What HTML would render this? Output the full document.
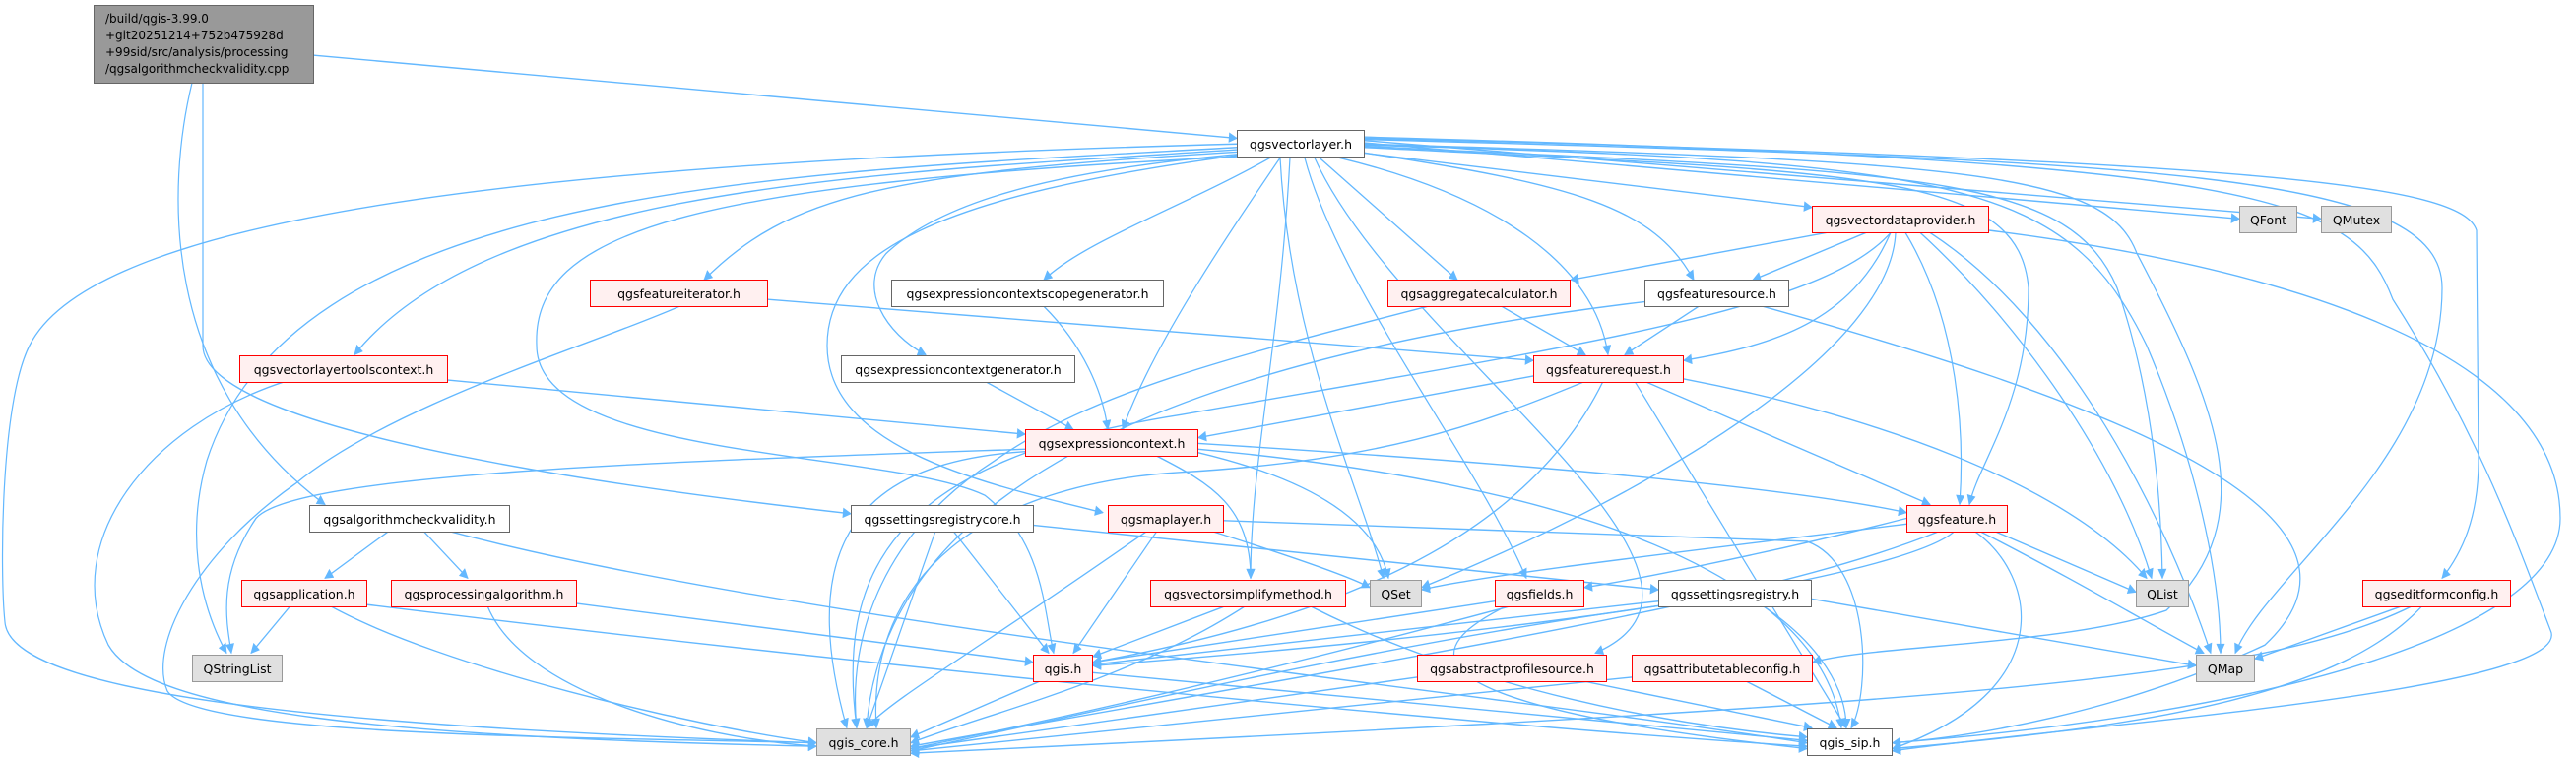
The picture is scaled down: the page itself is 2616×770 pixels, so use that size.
<!DOCTYPE html>
<html><head><meta charset="utf-8"><style>
html,body{margin:0;padding:0;background:#fff;}
#c{position:relative;width:2616px;height:770px;overflow:hidden;font-family:"DejaVu Sans","Liberation Sans",sans-serif;font-size:12.5px;color:#000;}
svg{position:absolute;left:0;top:0;}
.n{position:absolute;box-sizing:border-box;display:flex;align-items:center;justify-content:center;white-space:nowrap;border:1px solid #666;background:#fff;height:28px;}
.r{border-color:#f00;background:#fff0f0;}
.g{border-color:#999;background:#e0e0e0;}
</style></head><body><div id="c">
<svg width="2616" height="770" viewBox="0 0 2616 770">
<defs><marker id="a" viewBox="0 0 10 10" refX="9" refY="5" markerWidth="12" markerHeight="9" markerUnits="userSpaceOnUse" orient="auto"><path d="M0 0L10 5L0 10z" fill="#63b8ff"/></marker></defs>
<g fill="none" stroke="#63b8ff" stroke-width="1.2" marker-end="url(#a)" transform="scale(1 1.17)">
<path d="M319 48L1256 120"/>
<path d="M195 72C170 160 160 330 330 438"/>
<path d="M206 72L206 300C206 380 700 430 864 446"/>
<path d="M1256 125C600 140 100 180 30 300C0 350 0 500 5 540C10 600 300 630 829 645"/>
<path d="M1256 128C800 150 300 160 210 400C190 460 200 520 230 567"/>
<path d="M1256 130C900 150 500 160 360 308"/>
<path d="M1256 132C900 150 800 170 715 243"/>
<path d="M1290 137C1200 180 1100 210 1060 243"/>
<path d="M1256 134C1050 150 950 180 900 220C870 250 900 290 940 308"/>
<path d="M1300 137C1250 200 1170 300 1140 373"/>
<path d="M1256 135C950 170 840 220 840 300C840 390 1000 420 1120 445"/>
<path d="M1256 136C700 160 540 200 545 300C545 400 900 390 1000 430C1060 470 1060 530 1070 567"/>
<path d="M1300 137C1310 300 1380 420 1405 502"/>
<path d="M1310 137C1300 300 1270 400 1270 502"/>
<path d="M1325 137C1360 250 1500 400 1550 502"/>
<path d="M1335 137C1420 300 1800 500 1620 567"/>
<path d="M1340 137L1480 243"/>
<path d="M1360 137C1520 170 1620 230 1633 308"/>
<path d="M1380 132C1600 160 1680 180 1720 243"/>
<path d="M1386 133L1840 180"/>
<path d="M1386 128C1900 150 2050 150 2060 250C2060 350 2010 400 2000 438"/>
<path d="M1386 127C1950 150 2100 150 2150 250C2190 350 2195 450 2196 502"/>
<path d="M1386 126C2000 140 2100 160 2180 300C2230 400 2255 500 2255 567"/>
<path d="M1386 125C2000 140 2140 150 2170 220C2250 350 2300 450 2200 530C2100 560 1900 560 1841 575"/>
<path d="M1386 124L2274 190"/>
<path d="M1386 122L2357 190"/>
<path d="M1386 121C2200 140 2480 150 2480 250C2480 400 2300 500 2270 567"/>
<path d="M1386 120C2300 140 2500 160 2515 200L2517 400C2517 450 2500 480 2480 502"/>
<path d="M1386 119C2300 140 2390 170 2430 260C2520 380 2560 480 2590 547C2620 600 2100 630 1922 652"/>
<path d="M1855 202L1595 243"/>
<path d="M1895 202L1780 243"/>
<path d="M1920 202C1880 280 1800 300 1710 313"/>
<path d="M1935 202C1990 280 1995 380 1990 438"/>
<path d="M1950 202C2050 280 2150 400 2185 502"/>
<path d="M1960 202C2100 280 2200 450 2245 567"/>
<path d="M1925 202C1920 300 1700 420 1444 510"/>
<path d="M1920 202C1850 270 1600 300 1200 360C900 400 850 500 870 632"/>
<path d="M2020 200C2300 230 2600 300 2600 450C2600 550 2300 620 1922 645"/>
<path d="M690 266C600 300 400 350 300 420C200 480 150 560 170 600C200 640 600 640 829 645"/>
<path d="M780 260L1557 313"/>
<path d="M1060 266C1100 300 1120 340 1125 373"/>
<path d="M1000 331L1090 373"/>
<path d="M455 330L1041 377"/>
<path d="M290 331C150 370 60 470 110 560C150 620 400 640 829 648"/>
<path d="M1450 266C1250 310 1110 340 1010 400C900 460 860 550 870 632"/>
<path d="M1525 266L1610 308"/>
<path d="M1725 266L1650 308"/>
<path d="M1670 262C1300 300 900 390 880 632"/>
<path d="M1790 266C2100 340 2450 440 2300 560C2150 620 2000 640 1922 645"/>
<path d="M1560 326L1217 380"/>
<path d="M1610 331C1500 370 1400 400 1200 410C1000 420 880 500 890 632"/>
<path d="M1628 331C1560 450 1400 530 1110 575"/>
<path d="M1670 331L1960 438"/>
<path d="M1710 329C1900 360 2100 420 2180 502"/>
<path d="M1660 331L1875 632"/>
<path d="M1041 390C700 400 300 410 260 450C220 500 230 540 235 567"/>
<path d="M1041 392C900 400 800 450 860 632"/>
<path d="M1217 390C1600 420 1850 500 1870 632"/>
<path d="M1217 385C1500 400 1800 420 1936 445"/>
<path d="M1217 393C1350 420 1400 460 1410 502"/>
<path d="M1175 396C1230 420 1270 440 1270 502"/>
<path d="M395 461L330 502"/>
<path d="M430 461L475 502"/>
<path d="M455 461C800 540 1500 600 1835 645"/>
<path d="M295 526L255 567"/>
<path d="M335 526C450 580 700 630 829 645"/>
<path d="M373 525C900 580 1500 630 1835 648"/>
<path d="M495 526C530 600 700 640 829 648"/>
<path d="M586 524L1049 575"/>
<path d="M950 461L880 632"/>
<path d="M968 461L1065 567"/>
<path d="M1050 456L1684 512"/>
<path d="M1165 461C1000 560 900 610 880 632"/>
<path d="M1175 461L1090 567"/>
<path d="M1230 461C1300 480 1370 500 1391 510"/>
<path d="M1243 452L1835 470C1900 490 1900 600 1880 632"/>
<path d="M1936 455C1700 480 1500 500 1444 512"/>
<path d="M1936 450C1800 480 1650 505 1609 510"/>
<path d="M2025 461L2169 514"/>
<path d="M2010 461C2100 500 2200 550 2238 567"/>
<path d="M2005 461C2070 500 2090 600 1922 650"/>
<path d="M1985 461C1950 490 1700 540 1110 578"/>
<path d="M1970 461C1800 520 1500 560 925 648"/>
<path d="M1245 526L1110 570"/>
<path d="M1265 526C1150 590 1000 620 925 645"/>
<path d="M1330 526C1500 600 1700 630 1835 640"/>
<path d="M1518 522L1110 575"/>
<path d="M1535 526C1300 580 1100 620 925 650"/>
<path d="M1530 526C1450 560 1400 610 1835 650"/>
<path d="M1684 522L1110 577"/>
<path d="M1684 526C1400 560 1100 620 925 652"/>
<path d="M1790 526C1850 560 1875 600 1875 632"/>
<path d="M1840 520L2230 578"/>
<path d="M1060 590L925 640"/>
<path d="M1110 584L1835 643"/>
<path d="M1439 588L925 650"/>
<path d="M1600 590L1840 632"/>
<path d="M1657 588L925 652"/>
<path d="M1770 590L1865 632"/>
<path d="M2440 526L2290 572"/>
<path d="M2450 526C2300 590 2000 610 925 654"/>
<path d="M2460 526C2380 600 2200 630 1922 650"/>
</g></svg>
<div class="n" style="left:95px;top:5px;width:224px;height:80px;background:#999;border-color:#666;display:block;padding:5px 0 0 11px;line-height:17px;font-size:12px;">/build/qgis-3.99.0<br>+git20251214+752b475928d<br>+99sid/src/analysis/processing<br>/qgsalgorithmcheckvalidity.cpp</div>
<div class="n" style="left:1256px;top:132px;width:130px">qgsvectorlayer.h</div>
<div class="n r" style="left:1840px;top:209px;width:180px">qgsvectordataprovider.h</div>
<div class="n g" style="left:2274px;top:209px;width:59px">QFont</div>
<div class="n g" style="left:2357px;top:209px;width:72px">QMutex</div>
<div class="n r" style="left:599px;top:284px;width:181px">qgsfeatureiterator.h</div>
<div class="n" style="left:905px;top:284px;width:277px">qgsexpressioncontextscopegenerator.h</div>
<div class="n r" style="left:1409px;top:284px;width:186px">qgsaggregatecalculator.h</div>
<div class="n" style="left:1670px;top:284px;width:147px">qgsfeaturesource.h</div>
<div class="n r" style="left:243px;top:361px;width:212px">qgsvectorlayertoolscontext.h</div>
<div class="n" style="left:854px;top:361px;width:238px">qgsexpressioncontextgenerator.h</div>
<div class="n r" style="left:1557px;top:361px;width:153px">qgsfeaturerequest.h</div>
<div class="n r" style="left:1041px;top:436px;width:176px">qgsexpressioncontext.h</div>
<div class="n" style="left:314px;top:513px;width:204px">qgsalgorithmcheckvalidity.h</div>
<div class="n" style="left:864px;top:513px;width:186px">qgssettingsregistrycore.h</div>
<div class="n r" style="left:1125px;top:513px;width:118px">qgsmaplayer.h</div>
<div class="n r" style="left:1936px;top:513px;width:103px">qgsfeature.h</div>
<div class="n r" style="left:245px;top:589px;width:128px">qgsapplication.h</div>
<div class="n r" style="left:397px;top:589px;width:189px">qgsprocessingalgorithm.h</div>
<div class="n r" style="left:1168px;top:589px;width:199px">qgsvectorsimplifymethod.h</div>
<div class="n g" style="left:1391px;top:589px;width:53px">QSet</div>
<div class="n r" style="left:1518px;top:589px;width:91px">qgsfields.h</div>
<div class="n" style="left:1684px;top:589px;width:156px">qgssettingsregistry.h</div>
<div class="n g" style="left:2169px;top:589px;width:54px">QList</div>
<div class="n r" style="left:2399px;top:589px;width:151px">qgseditformconfig.h</div>
<div class="n g" style="left:195px;top:665px;width:92px">QStringList</div>
<div class="n r" style="left:1049px;top:665px;width:61px">qgis.h</div>
<div class="n r" style="left:1439px;top:665px;width:193px">qgsabstractprofilesource.h</div>
<div class="n r" style="left:1657px;top:665px;width:184px">qgsattributetableconfig.h</div>
<div class="n g" style="left:2230px;top:665px;width:60px">QMap</div>
<div class="n g" style="left:829px;top:740px;width:96px">qgis_core.h</div>
<div class="n" style="left:1835px;top:740px;width:87px">qgis_sip.h</div>
</div></body></html>
